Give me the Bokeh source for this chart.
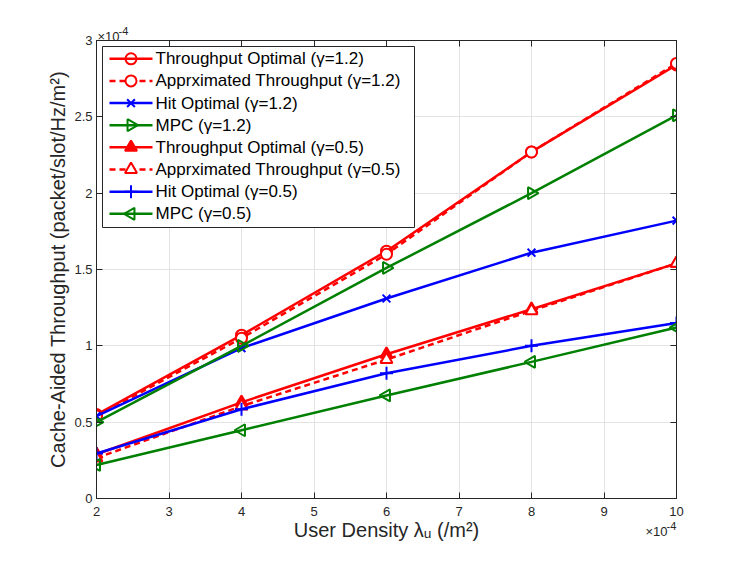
import math
from bokeh.plotting import figure
from bokeh.models import Range1d, LinearAxis, FixedTicker, Label, BoxAnnotation
from bokeh.embed import file_html
from bokeh.resources import INLINE

# ---- data (values in units of 1e-4) ----
density = [2, 4, 6, 8, 10]
thr_opt_12 = [0.55, 1.07, 1.62, 2.27, 2.84]
apx_thr_12 = [0.54, 1.05, 1.60, 2.27, 2.85]
hit_opt_12 = [0.54, 0.985, 1.31, 1.61, 1.82]
mpc_12 = [0.50, 1.00, 1.51, 2.00, 2.51]
thr_opt_05 = [0.29, 0.63, 0.945, 1.24, 1.54]
apx_thr_05 = [0.265, 0.605, 0.91, 1.23, 1.54]
hit_opt_05 = [0.295, 0.585, 0.82, 1.00, 1.15]
mpc_05 = [0.22, 0.447, 0.675, 0.895, 1.12]

x_ticks = [2, 3, 4, 5, 6, 7, 8, 9, 10]
x_tick_labels = ["2", "3", "4", "5", "6", "7", "8", "9", "10"]
y_ticks = [0, 0.5, 1, 1.5, 2, 2.5, 3]
y_tick_labels = ["0", "0.5", "1", "1.5", "2", "2.5", "3"]

FONT = "Liberation Sans"
AX = "#262626"
X0, X1, Y0, Y1 = 2, 10, 0, 3
FW, FH = 580, 458

p = figure(width=740, height=553, output_backend="svg", toolbar_location=None,
           x_range=Range1d(X0, X1), y_range=Range1d(Y0, Y1),
           min_border_left=96, min_border_right=64, min_border_top=40, min_border_bottom=55,
           x_axis_label="User Density \u03bb\u1d64 (/m\u00b2)",
           y_axis_label="Cache-Aided Throughput (packet/slot/Hz/m\u00b2)")
p.background_fill_color = "white"
p.border_fill_color = "white"
p.outline_line_color = AX
p.outline_line_width = 1

for ax in [p.xaxis[0], p.yaxis[0]]:
    ax.major_tick_in = 6
    ax.major_tick_out = 0
    ax.minor_tick_in = 0
    ax.minor_tick_out = 0
    ax.axis_line_color = AX
    ax.major_tick_line_color = AX
    ax.major_label_text_font = FONT
    ax.major_label_text_font_size = "13px"
    ax.major_label_text_color = AX
    ax.axis_label_text_font = FONT
    ax.axis_label_text_font_size = "20px"
    ax.axis_label_text_font_style = "normal"
    ax.axis_label_text_color = AX

p.xaxis[0].ticker = FixedTicker(ticks=x_ticks)
p.xaxis[0].major_label_overrides = dict(zip(x_ticks, x_tick_labels))
p.yaxis[0].ticker = FixedTicker(ticks=y_ticks)
p.yaxis[0].major_label_overrides = dict(zip(y_ticks, y_tick_labels))
p.xaxis[0].major_label_standoff = 8
p.yaxis[0].major_label_standoff = 4
p.xaxis[0].axis_label_standoff = 0
p.yaxis[0].axis_label_standoff = 2

# box axes (top/right) with inward ticks, no labels
top = LinearAxis(ticker=FixedTicker(ticks=x_ticks), major_label_overrides={t: "" for t in x_ticks})
right = LinearAxis(ticker=FixedTicker(ticks=y_ticks), major_label_overrides={t: "" for t in y_ticks})
for ax in [top, right]:
    ax.major_tick_in = 6
    ax.major_tick_out = 0
    ax.minor_tick_in = 0
    ax.minor_tick_out = 0
    ax.axis_line_color = AX
    ax.major_tick_line_color = AX
    ax.major_label_text_font_size = "1px"
    ax.major_label_standoff = 0
p.add_layout(top, "above")
p.add_layout(right, "right")

p.xgrid.ticker = FixedTicker(ticks=x_ticks)
p.ygrid.ticker = FixedTicker(ticks=y_ticks)
p.grid.grid_line_color = "#e3e3e3"
p.grid.grid_line_width = 1

RED, BLUE, GREEN = "#ff0000", "#0000ff", "#008000"
LW = 2.5

series = [
    ("Throughput Optimal (\u03b3=1.2)", thr_opt_12, RED, "solid", "circle", 0, None, 11),
    ("Apprximated Throughput (\u03b3=1.2)", apx_thr_12, RED, "6 4", "circle", 0, "white", 11),
    ("Hit Optimal (\u03b3=1.2)", hit_opt_12, BLUE, "solid", "x", 0, None, 11),
    ("MPC (\u03b3=1.2)", mpc_12, GREEN, "solid", "triangle", -math.pi / 2, None, 12),
    ("Throughput Optimal (\u03b3=0.5)", thr_opt_05, RED, "solid", "triangle", 0, RED, 12),
    ("Apprximated Throughput (\u03b3=0.5)", apx_thr_05, RED, "6 4", "triangle", 0, "white", 12),
    ("Hit Optimal (\u03b3=0.5)", hit_opt_05, BLUE, "solid", "cross", 0, None, 13),
    ("MPC (\u03b3=0.5)", mpc_05, GREEN, "solid", "triangle", math.pi / 2, None, 12),
]

for label, ys, col, dash, marker, ang, fill, size in series:
    p.line(density, ys, line_color=col, line_width=LW, line_dash=dash)
    p.scatter(density, ys, marker=marker, size=size, angle=ang,
              line_color=col, line_width=2, fill_color=fill)

# ---- hand-built legend (pixel layout converted through the fixed ranges) ----
def fx(px):  # pixel offset from frame left -> data x
    return X0 + px * (X1 - X0) / FW

def fy(py):  # pixel offset from frame top -> data y
    return Y1 - py * (Y1 - Y0) / FH

LEG_L, LEG_T, LEG_W, LEG_H = 6, 6, 312, 181
ROW0, ROW_DY = 18.3, 22.14
p.add_layout(BoxAnnotation(left=fx(LEG_L), right=fx(LEG_L + LEG_W), top=fy(LEG_T), bottom=fy(LEG_T + LEG_H),
                           fill_color="white", fill_alpha=1, line_color=AX, line_width=1, line_alpha=1))
for i, (label, ys, col, dash, marker, ang, fill, size) in enumerate(series):
    yy = fy(ROW0 + ROW_DY * i)
    p.line([fx(13), fx(56)], [yy, yy], line_color=col, line_width=LW, line_dash=dash, level="overlay")
    p.scatter([fx(34.5)], [yy], marker=marker, size=size, angle=ang, line_color=col, line_width=2,
              fill_color=fill, level="overlay")
    p.add_layout(Label(x=fx(59), y=yy, text=label, text_font=FONT, text_font_size="17px",
                       text_color="black", text_baseline="middle", text_align="left", level="overlay"))

# exponent labels, placed in side panels so they are not clipped to the frame
def exp_labels(panel, x, y, xo, yo):
    p.add_layout(Label(x=x, y=y, x_offset=xo, y_offset=yo, text="\u00d710",
                       text_font=FONT, text_font_size="13px", text_color=AX,
                       text_align="left", text_baseline="alphabetic"), panel)
    p.add_layout(Label(x=x, y=y, x_offset=xo + 21, y_offset=yo + 6, text="-4",
                       text_font=FONT, text_font_size="11px", text_color=AX,
                       text_align="left", text_baseline="alphabetic"), panel)

exp_labels("left", X0, Y1, 1, 4)
exp_labels("right", X1, Y0, -31, -33)

open("out.html", "w").write(file_html(p, INLINE))
